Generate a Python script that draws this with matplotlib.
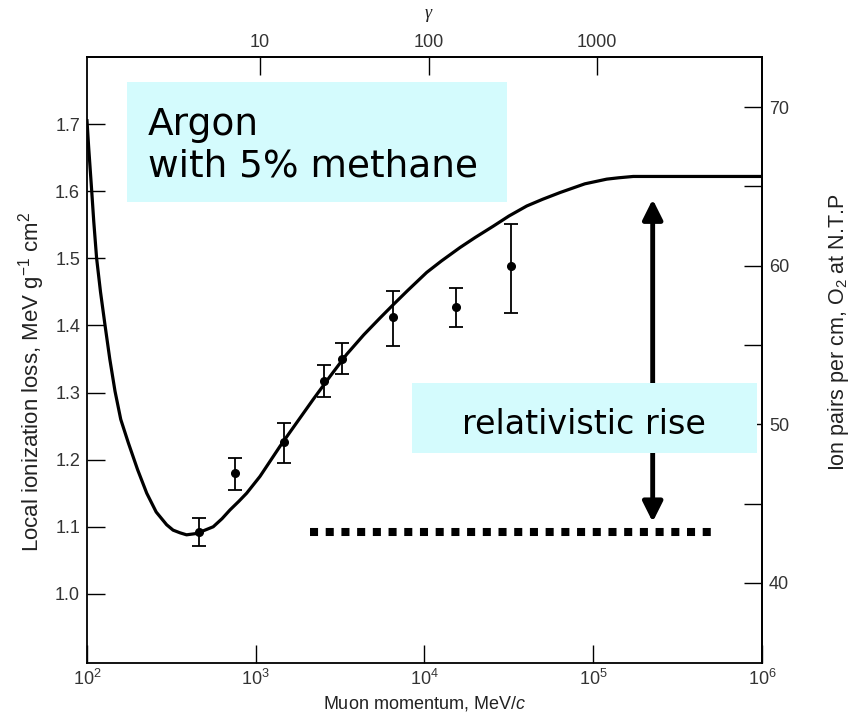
import matplotlib.pyplot as plt
import numpy as np
from matplotlib.patches import Rectangle, FancyArrowPatch

plt.rcParams['font.family'] = ['Liberation Sans', 'DejaVu Sans']
plt.rcParams['mathtext.fontset'] = 'custom'
plt.rcParams['mathtext.rm'] = 'Liberation Sans'
plt.rcParams['mathtext.it'] = 'Liberation Sans:italic'

# calculated dE/dx curve (log10 of momentum in MeV/c, MeV g^-1 cm^2)
curve_logp = [2.000, 2.010, 2.028, 2.040, 2.057, 2.080, 2.107, 2.135, 2.166, 2.200,
              2.245, 2.300, 2.354, 2.410, 2.472, 2.510, 2.551, 2.590, 2.650, 2.709,
              2.748, 2.800, 2.847, 2.900, 2.946, 3.025, 3.144, 3.200, 3.341, 3.440,
              3.539, 3.640, 3.736, 3.815, 3.900, 4.013, 4.100, 4.210, 4.300, 4.408,
              4.500, 4.606, 4.700, 4.803, 4.882, 4.950, 5.080, 5.150, 5.237, 6.000]
curve_loss = [1.705, 1.665, 1.600, 1.555, 1.500, 1.450, 1.400, 1.350, 1.302, 1.260,
              1.225, 1.185, 1.150, 1.122, 1.103, 1.095, 1.091, 1.088, 1.090, 1.096,
              1.100, 1.112, 1.125, 1.138, 1.150, 1.175, 1.220, 1.240, 1.290, 1.324,
              1.357, 1.386, 1.411, 1.431, 1.452, 1.479, 1.496, 1.516, 1.531, 1.548,
              1.563, 1.578, 1.588, 1.598, 1.605, 1.611, 1.618, 1.620, 1.622, 1.622]

# measured points with errors
meas_p = [462, 756, 1469, 2548, 3259, 6531, 15300, 32400]
meas_loss = [1.092, 1.180, 1.227, 1.317, 1.350, 1.412, 1.427, 1.488]
meas_err_lo = [0.021, 0.025, 0.032, 0.023, 0.023, 0.042, 0.029, 0.070]
meas_err_hi = [0.021, 0.022, 0.028, 0.024, 0.024, 0.040, 0.029, 0.063]

muon_mass = 105.66
gamma_ticks = [10, 100, 1000]
ion_major = [40, 50, 60, 70]
ion_minor = [45, 55, 65]

# minimum-ionizing level and the rise up to the plateau
baseline_loss = 1.0925
baseline_p = [2.1e3, 5.5e5]
rise_p = 2.25e5
rise_top = 1.592
rise_bottom = 1.103

fig = plt.figure(figsize=(8.56, 7.25), dpi=100)
ax = fig.add_axes([87 / 856, 62 / 725, 675 / 856, 606 / 725])

ax.plot(10 ** np.array(curve_logp), curve_loss, color='black', lw=2.3, zorder=3,
        solid_joinstyle='round')
ax.errorbar(meas_p, meas_loss, yerr=[meas_err_lo, meas_err_hi], fmt='o', color='black',
            ms=5.5, elinewidth=1.3, capsize=5, capthick=1.3, zorder=4)

ax.set_xscale('log')
ax.set_xlim(1e2, 1e6)
ax.set_ylim(0.897, 1.800)
ax.set_yticks([1.0, 1.1, 1.2, 1.3, 1.4, 1.5, 1.6, 1.7])
ax.set_yticklabels(['1.0', '1.1', '1.2', '1.3', '1.4', '1.5', '1.6', '1.7'])
ax.xaxis.set_minor_locator(plt.NullLocator())

tick_kw = dict(direction='in', length=13, width=1.0, labelsize=13, labelcolor='#333333')
ax.tick_params(axis='x', which='major', pad=4, **tick_kw)
ax.tick_params(axis='y', which='major', pad=5, **tick_kw)
for s in ax.spines.values():
    s.set_linewidth(1.3)

# gamma axis on top
top = ax.secondary_xaxis('top', functions=(lambda p: p / muon_mass, lambda g: g * muon_mass))
top.set_xticks(gamma_ticks)
top.set_xticklabels([str(g) for g in gamma_ticks])
top.xaxis.set_minor_locator(plt.NullLocator())
top.tick_params(axis='x', which='major', pad=4, **tick_kw)
top.spines['top'].set_linewidth(1.3)

# ion pairs axis on the right
v40, v70 = 1.0164, 1.7254
k = 30 / (v70 - v40)
right = ax.secondary_yaxis('right', functions=(lambda v: 40 + (v - v40) * k,
                                               lambda r: v40 + (r - 40) / k))
right.set_yticks(ion_major)
right.set_yticks(ion_minor, minor=True)
right.tick_params(axis='y', which='major', pad=5, **tick_kw)
right.tick_params(axis='y', which='minor', direction='in', length=13, width=1.0)
right.spines['right'].set_linewidth(1.3)

ax.set_xlabel('Muon momentum, MeV/$c$', fontsize=13, color='#222222', labelpad=4)
ax.text(-0.082, 0.464, 'Local ionization loss, MeV g$^{-1}$ cm$^2$', transform=ax.transAxes,
        rotation=90, ha='center', va='center', fontsize=16, color='#222222')
ax.text(1.113, 0.546, 'Ion pairs per cm, O$_2$ at N.T.P', transform=ax.transAxes,
        rotation=90, ha='center', va='center', fontsize=15.5, color='#222222')
ax.text(0.505, 1.072, 'γ', transform=ax.transAxes, ha='center', va='center',
        fontsize=13, family='Liberation Serif', style='italic', color='#222222')

# baseline and the relativistic-rise arrow
ax.plot(baseline_p, [baseline_loss, baseline_loss], color='black', lw=5.8,
        linestyle=(0, (1, 0.95)), solid_capstyle='butt', dash_capstyle='butt', zorder=3)
arrow = FancyArrowPatch((rise_p, rise_bottom), (rise_p, rise_top),
                        arrowstyle='<|-|>,head_length=12,head_width=6',
                        mutation_scale=1, color='black', lw=3.5, zorder=3)
ax.add_patch(arrow)

box_color = '#d4fbfd'
ax.add_patch(Rectangle((0.059, 0.761), 0.563, 0.198, transform=ax.transAxes,
                       facecolor=box_color, edgecolor='none', zorder=5))
ax.text(0.090, 0.871, 'Argon', transform=ax.transAxes, fontsize=27,
        family='DejaVu Sans', va='baseline', zorder=6)
ax.text(0.090, 0.802, 'with 5% methane', transform=ax.transAxes, fontsize=27,
        family='DejaVu Sans', va='baseline', zorder=6)

ax.add_patch(Rectangle((0.4815, 0.3465), 0.511, 0.1155, transform=ax.transAxes,
                       facecolor=box_color, edgecolor='none', zorder=5))
ax.text(0.736, 0.378, 'relativistic rise', transform=ax.transAxes, fontsize=24,
        family='DejaVu Sans', ha='center', va='baseline', zorder=6)

fig.savefig('out.png', dpi=100)
